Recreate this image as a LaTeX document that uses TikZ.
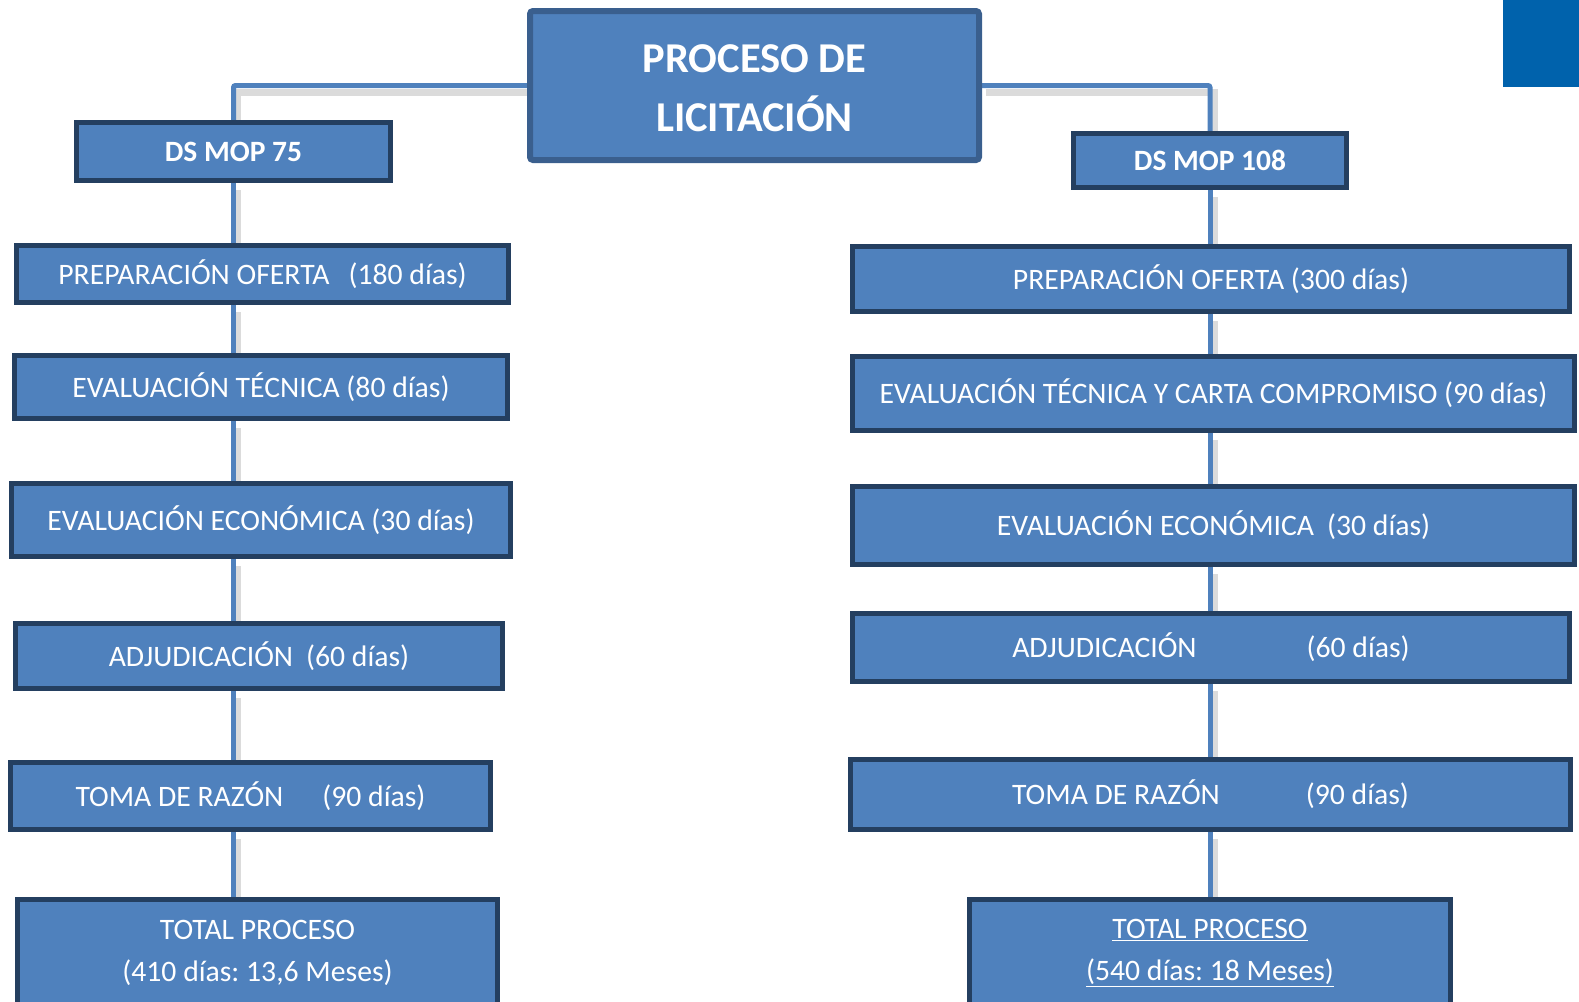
\documentclass[tikz,border=0pt]{standalone}
\usepackage{fontspec}
\setmainfont{Carlito}
\usetikzlibrary{backgrounds}
\definecolor{boxfill}{HTML}{4F81BD}
\definecolor{boxdraw}{HTML}{243F60}
\definecolor{maindraw}{HTML}{3A5F8E}
\definecolor{cornerblue}{HTML}{0062AC}
\frenchspacing
\begin{document}
\begin{tikzpicture}[x=1pt,y=-1pt,
  box/.style={draw=boxdraw, line width=5pt, fill=boxfill, text=white, inner sep=0pt,
    font=\fontsize{29.7}{42}\selectfont, align=center},
  titlebox/.style={box, draw=maindraw, line width=6pt, rounded corners=3pt},
  titletext/.style={text=white, inner sep=0pt, align=center,
    font=\fontsize{42.5}{59.5}\selectfont\bfseries},
  dsbox/.style={box, font=\fontsize{29.5}{35}\selectfont\bfseries},
  conn/.style={draw=boxfill, line width=5pt, rounded corners=2pt},
  connshadow/.style={draw=black!14, line width=7pt, transform canvas={shift={(4pt,-7pt)}}},
]
\clip (0,0) rectangle (1579,1001);
\fill[cornerblue] (1503,0) rectangle (1579,87);

% title
\node[titlebox, minimum width=449pt, minimum height=149pt] (main) at (754.5,85.5) {};
\node[titletext] (maintext) at ([yshift=-2.5pt]main.center) {PROCESO DE\\LICITACIÓN};

% left column
\node[dsbox, minimum width=314pt, minimum height=58pt] (ds75) at (233.5,151.5) {DS MOP 75};
\node[box, minimum width=492pt, minimum height=57pt] (prep75) at (262.5,274)
  {PREPARACIÓN OFERTA\hspace{19pt}(180 días)};
\node[box, minimum width=493pt, minimum height=63pt] (eval75) at (261,387)
  {EVALUACIÓN TÉCNICA (80 días)};
\node[box, minimum width=499pt, minimum height=73pt] (econ75) at (261,520)
  {EVALUACIÓN ECONÓMICA (30 días)};
\node[box, minimum width=487pt, minimum height=65pt] (adj75) at (259,656)
  {ADJUDICACIÓN\hspace{13pt}(60 días)};
\node[box, minimum width=480pt, minimum height=67pt] (toma75) at (250.5,796)
  {TOMA DE RAZÓN\hspace{39pt}(90 días)};
\node[box, minimum width=480pt, minimum height=108pt] (total75) at (257.5,953)
  {TOTAL PROCESO\\(410 días: 13,6 Meses)};

% right column
\node[dsbox, minimum width=273pt, minimum height=54pt] (ds108) at (1210,160.5) {DS MOP 108};
\node[box, minimum width=717pt, minimum height=65pt] (prep108) at (1211,279)
  {PREPARACIÓN OFERTA (300 días)};
\node[box, minimum width=722pt, minimum height=74pt] (eval108) at (1213.5,393.5)
  {EVALUACIÓN TÉCNICA Y CARTA COMPROMISO (90 días)};
\node[box, minimum width=722pt, minimum height=78pt] (econ108) at (1213.5,525.5)
  {EVALUACIÓN ECONÓMICA\hspace{13pt}(30 días)};
\node[box, minimum width=717pt, minimum height=68pt] (adj108) at (1211,647.5)
  {ADJUDICACIÓN\hspace{110pt}(60 días)};
\node[box, minimum width=720pt, minimum height=70pt] (toma108) at (1210.5,794.5)
  {TOMA DE RAZÓN\hspace{86pt}(90 días)};
\node[box, minimum width=481pt, minimum height=108pt] (total108) at (1210,953)
  {\underline{TOTAL PROCESO}\\\underline{(540 días: 18 Meses)}};

\begin{scope}[on background layer]
  \foreach \s in {connshadow,conn}{
    \draw[\s] (main.west) -| (ds75.north);
    \draw[\s] (main.east) -| (ds108.north);
    \draw[\s] (ds75.south) -- (ds75.south |- prep75.north);
    \draw[\s] (ds75.south |- prep75.south) -- (ds75.south |- eval75.north);
    \draw[\s] (ds75.south |- eval75.south) -- (ds75.south |- econ75.north);
    \draw[\s] (ds75.south |- econ75.south) -- (ds75.south |- adj75.north);
    \draw[\s] (ds75.south |- adj75.south) -- (ds75.south |- toma75.north);
    \draw[\s] (ds75.south |- toma75.south) -- (ds75.south |- total75.north);
    \draw[\s] (ds108.south) -- (ds108.south |- prep108.north);
    \draw[\s] (ds108.south |- prep108.south) -- (ds108.south |- eval108.north);
    \draw[\s] (ds108.south |- eval108.south) -- (ds108.south |- econ108.north);
    \draw[\s] (ds108.south |- econ108.south) -- (ds108.south |- adj108.north);
    \draw[\s] (ds108.south |- adj108.south) -- (ds108.south |- toma108.north);
    \draw[\s] (ds108.south |- toma108.south) -- (ds108.south |- total108.north);
  }
\end{scope}
\end{tikzpicture}
\end{document}
